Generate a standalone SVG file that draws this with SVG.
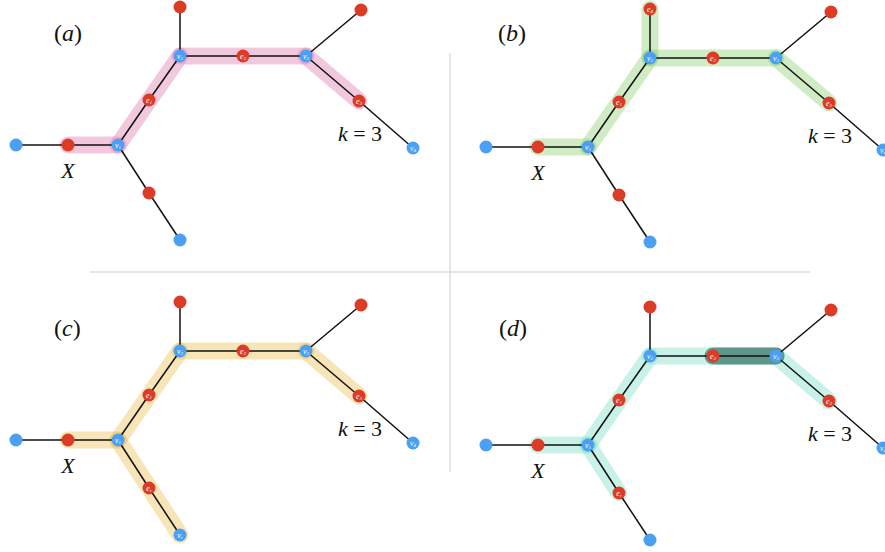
<svg xmlns="http://www.w3.org/2000/svg" width="885" height="552" viewBox="0 0 885 552">
<style>
.edge{stroke:#111;stroke-width:1.5;fill:none}
.hl{fill:none;stroke-width:17;stroke-linecap:round;stroke-linejoin:round;stroke-opacity:0.45}
.pink{stroke:rgb(226,133,182)}
.green{stroke:rgb(151,213,124)}
.orange{stroke:rgb(237,195,95)}
.cyan{stroke:rgb(133,226,204)}
.dark{stroke:#5e968b;stroke-opacity:1}
.vb{fill:#4aa0f3}
.vr{fill:#dc3b26}
.nl{font-family:"Liberation Serif",serif;font-style:italic;font-size:8px;fill:#fff;text-anchor:middle}
.sub{font-size:5px}
.lbl{font-family:"Liberation Serif","Times New Roman",serif;font-size:22px;fill:#111}
.big{font-size:24px}
.it{font-style:italic}
.div{stroke:#dcdcdc;stroke-width:1.5}
</style>
<defs>
<g id="edges-base" class="edge">
<line x1="16" y1="145" x2="68" y2="145"/>
<line x1="68" y1="145" x2="118" y2="145"/>
<line x1="118" y1="145" x2="149" y2="100"/>
<line x1="149" y1="100" x2="180" y2="56"/>
<line x1="180" y1="56" x2="180" y2="7"/>
<line x1="180" y1="56" x2="243" y2="56"/>
<line x1="243" y1="56" x2="306" y2="56"/>
<line x1="306" y1="56" x2="361" y2="10"/>
<line x1="306" y1="56" x2="359" y2="101"/>
<line x1="359" y1="101" x2="413" y2="148"/>
<line x1="118" y1="145" x2="149" y2="193"/>
<line x1="149" y1="193" x2="180" y2="240"/>
</g>
</defs>

<!-- dividers -->
<g id="dividers">
<line class="div" x1="90" y1="272" x2="810" y2="272"/>
<line class="div" x1="450" y1="53" x2="450" y2="472"/>
</g>

<!-- panel labels -->
<g id="panel-labels" class="lbl big">
<text x="54" y="41">(<tspan class="it">a</tspan>)</text>
<text x="498" y="41">(<tspan class="it">b</tspan>)</text>
<text x="54" y="336">(<tspan class="it">c</tspan>)</text>
<text x="499" y="336">(<tspan class="it">d</tspan>)</text>
</g>

<!-- ===== Panel (a) ===== -->
<g id="panel-a">
<g id="a-highlight" class="hl pink">
<line x1="68" y1="145" x2="118" y2="145"/>
<line x1="118" y1="145" x2="180" y2="56"/>
<line x1="180" y1="56" x2="306" y2="56"/>
<line x1="306" y1="56" x2="359" y2="101"/>
</g>
<g id="a-connectors"><use href="#edges-base"/></g>
<g id="a-lb"><circle class="vb" cx="16" cy="145" r="6.5"/></g>
<g id="a-x"><circle class="vr" cx="68" cy="145" r="6.5"/></g>
<g id="a-v1"><circle class="vb" cx="118" cy="145" r="6.5"/><text class="nl" x="118" y="147.5">v<tspan class="sub" dy="1">1</tspan></text></g>
<g id="a-e1"><circle class="vr" cx="149" cy="100" r="6.5"/><text class="nl" x="149" y="102.5">e<tspan class="sub" dy="1">1</tspan></text></g>
<g id="a-v2"><circle class="vb" cx="180" cy="56" r="6.5"/><text class="nl" x="180" y="58.5">v<tspan class="sub" dy="1">2</tspan></text></g>
<g id="a-top"><circle class="vr" cx="180" cy="7" r="6.5"/></g>
<g id="a-e2"><circle class="vr" cx="243" cy="56" r="6.5"/><text class="nl" x="243" y="58.5">e<tspan class="sub" dy="1">2</tspan></text></g>
<g id="a-v3"><circle class="vb" cx="306" cy="56" r="6.5"/><text class="nl" x="306" y="58.5">v<tspan class="sub" dy="1">3</tspan></text></g>
<g id="a-tr"><circle class="vr" cx="361" cy="10" r="6.5"/></g>
<g id="a-e3"><circle class="vr" cx="359" cy="101" r="6.5"/><text class="nl" x="359" y="103.5">e<tspan class="sub" dy="1">3</tspan></text></g>
<g id="a-v4"><circle class="vb" cx="413" cy="148" r="6.5"/><text class="nl" x="413" y="150.5">v<tspan class="sub" dy="1">4</tspan></text></g>
<g id="a-lr"><circle class="vr" cx="149" cy="193" r="6.5"/></g>
<g id="a-lbot"><circle class="vb" cx="180" cy="240" r="6.5"/></g>
<text class="lbl it" x="68" y="178" text-anchor="middle">X</text>
<text class="lbl" x="360" y="141" text-anchor="middle"><tspan class="it">k</tspan> = 3</text>
</g>

<!-- ===== Panel (b) ===== -->
<g id="panel-b" transform="translate(470,2)">
<g id="b-highlight" class="hl green">
<line x1="68" y1="145" x2="118" y2="145"/>
<line x1="118" y1="145" x2="180" y2="56"/>
<line x1="180" y1="56" x2="180" y2="7"/>
<line x1="180" y1="56" x2="306" y2="56"/>
<line x1="306" y1="56" x2="359" y2="101"/>
</g>
<g id="b-connectors"><use href="#edges-base"/></g>
<g id="b-lb"><circle class="vb" cx="16" cy="145" r="6.5"/></g>
<g id="b-x"><circle class="vr" cx="68" cy="145" r="6.5"/></g>
<g id="b-v1"><circle class="vb" cx="118" cy="145" r="6.5"/><text class="nl" x="118" y="147.5">v<tspan class="sub" dy="1">1</tspan></text></g>
<g id="b-e1"><circle class="vr" cx="149" cy="100" r="6.5"/><text class="nl" x="149" y="102.5">e<tspan class="sub" dy="1">1</tspan></text></g>
<g id="b-v2"><circle class="vb" cx="180" cy="56" r="6.5"/><text class="nl" x="180" y="58.5">v<tspan class="sub" dy="1">2</tspan></text></g>
<g id="b-e4"><circle class="vr" cx="180" cy="7" r="6.5"/><text class="nl" x="180" y="9.5">e<tspan class="sub" dy="1">4</tspan></text></g>
<g id="b-e2"><circle class="vr" cx="243" cy="56" r="6.5"/><text class="nl" x="243" y="58.5">e<tspan class="sub" dy="1">2</tspan></text></g>
<g id="b-v3"><circle class="vb" cx="306" cy="56" r="6.5"/><text class="nl" x="306" y="58.5">v<tspan class="sub" dy="1">3</tspan></text></g>
<g id="b-tr"><circle class="vr" cx="361" cy="10" r="6.5"/></g>
<g id="b-e3"><circle class="vr" cx="359" cy="101" r="6.5"/><text class="nl" x="359" y="103.5">e<tspan class="sub" dy="1">3</tspan></text></g>
<g id="b-v4"><circle class="vb" cx="413" cy="148" r="6.5"/><text class="nl" x="413" y="150.5">v<tspan class="sub" dy="1">4</tspan></text></g>
<g id="b-lr"><circle class="vr" cx="149" cy="193" r="6.5"/></g>
<g id="b-lbot"><circle class="vb" cx="180" cy="240" r="6.5"/></g>
<text class="lbl it" x="68" y="178" text-anchor="middle">X</text>
<text class="lbl" x="360" y="141" text-anchor="middle"><tspan class="it">k</tspan> = 3</text>
</g>

<!-- ===== Panel (c) ===== -->
<g id="panel-c" transform="translate(0,295)">
<g id="c-highlight" class="hl orange">
<line x1="68" y1="145" x2="118" y2="145"/>
<line x1="118" y1="145" x2="180" y2="56"/>
<line x1="180" y1="56" x2="306" y2="56"/>
<line x1="306" y1="56" x2="359" y2="101"/>
<line x1="118" y1="145" x2="180" y2="240"/>
</g>
<g id="c-connectors"><use href="#edges-base"/></g>
<g id="c-lb"><circle class="vb" cx="16" cy="145" r="6.5"/></g>
<g id="c-x"><circle class="vr" cx="68" cy="145" r="6.5"/></g>
<g id="c-v1"><circle class="vb" cx="118" cy="145" r="6.5"/><text class="nl" x="118" y="147.5">v<tspan class="sub" dy="1">1</tspan></text></g>
<g id="c-e1"><circle class="vr" cx="149" cy="100" r="6.5"/><text class="nl" x="149" y="102.5">e<tspan class="sub" dy="1">1</tspan></text></g>
<g id="c-v2"><circle class="vb" cx="180" cy="56" r="6.5"/><text class="nl" x="180" y="58.5">v<tspan class="sub" dy="1">2</tspan></text></g>
<g id="c-top"><circle class="vr" cx="180" cy="7" r="6.5"/></g>
<g id="c-e2"><circle class="vr" cx="243" cy="56" r="6.5"/><text class="nl" x="243" y="58.5">e<tspan class="sub" dy="1">2</tspan></text></g>
<g id="c-v3"><circle class="vb" cx="306" cy="56" r="6.5"/><text class="nl" x="306" y="58.5">v<tspan class="sub" dy="1">3</tspan></text></g>
<g id="c-tr"><circle class="vr" cx="361" cy="10" r="6.5"/></g>
<g id="c-e3"><circle class="vr" cx="359" cy="101" r="6.5"/><text class="nl" x="359" y="103.5">e<tspan class="sub" dy="1">3</tspan></text></g>
<g id="c-v4"><circle class="vb" cx="413" cy="148" r="6.5"/><text class="nl" x="413" y="150.5">v<tspan class="sub" dy="1">4</tspan></text></g>
<g id="c-er"><circle class="vr" cx="149" cy="193" r="6.5"/><text class="nl" x="149" y="195.5">e<tspan class="sub" dy="1">r</tspan></text></g>
<g id="c-vr"><circle class="vb" cx="180" cy="240" r="6.5"/><text class="nl" x="180" y="242.5">v<tspan class="sub" dy="1">r</tspan></text></g>
<text class="lbl it" x="68" y="178" text-anchor="middle">X</text>
<text class="lbl" x="360" y="141" text-anchor="middle"><tspan class="it">k</tspan> = 3</text>
</g>

<!-- ===== Panel (d) ===== -->
<g id="panel-d" transform="translate(470,300)">
<g id="d-highlight" class="hl cyan">
<line x1="68" y1="145" x2="118" y2="145"/>
<line x1="118" y1="145" x2="180" y2="56"/>
<line x1="180" y1="56" x2="306" y2="56"/>
<line x1="306" y1="56" x2="359" y2="101"/>
<line x1="118" y1="145" x2="149" y2="193"/>
</g>
<g id="d-highlight-dark" class="hl dark">
<line x1="243" y1="56" x2="306" y2="56"/>
</g>
<g id="d-connectors"><use href="#edges-base"/></g>
<g id="d-lb"><circle class="vb" cx="16" cy="145" r="6.5"/></g>
<g id="d-x"><circle class="vr" cx="68" cy="145" r="6.5"/></g>
<g id="d-v1"><circle class="vb" cx="118" cy="145" r="6.5"/><text class="nl" x="118" y="147.5">v<tspan class="sub" dy="1">1</tspan></text></g>
<g id="d-e1"><circle class="vr" cx="149" cy="100" r="6.5"/><text class="nl" x="149" y="102.5">e<tspan class="sub" dy="1">1</tspan></text></g>
<g id="d-v2"><circle class="vb" cx="180" cy="56" r="6.5"/><text class="nl" x="180" y="58.5">v<tspan class="sub" dy="1">2</tspan></text></g>
<g id="d-top"><circle class="vr" cx="180" cy="7" r="6.5"/></g>
<g id="d-e2"><circle class="vr" cx="243" cy="56" r="6.5"/><text class="nl" x="243" y="58.5">e<tspan class="sub" dy="1">2</tspan></text></g>
<g id="d-v3"><circle class="vb" cx="306" cy="56" r="6.5"/><text class="nl" x="306" y="58.5">v<tspan class="sub" dy="1">3</tspan></text></g>
<g id="d-tr"><circle class="vr" cx="361" cy="10" r="6.5"/></g>
<g id="d-e3"><circle class="vr" cx="359" cy="101" r="6.5"/><text class="nl" x="359" y="103.5">e<tspan class="sub" dy="1">3</tspan></text></g>
<g id="d-v4"><circle class="vb" cx="413" cy="148" r="6.5"/><text class="nl" x="413" y="150.5">v<tspan class="sub" dy="1">4</tspan></text></g>
<g id="d-er"><circle class="vr" cx="149" cy="193" r="6.5"/><text class="nl" x="149" y="195.5">e<tspan class="sub" dy="1">r</tspan></text></g>
<g id="d-lbot"><circle class="vb" cx="180" cy="240" r="6.5"/></g>
<text class="lbl it" x="68" y="178" text-anchor="middle">X</text>
<text class="lbl" x="360" y="141" text-anchor="middle"><tspan class="it">k</tspan> = 3</text>
</g>
</svg>
